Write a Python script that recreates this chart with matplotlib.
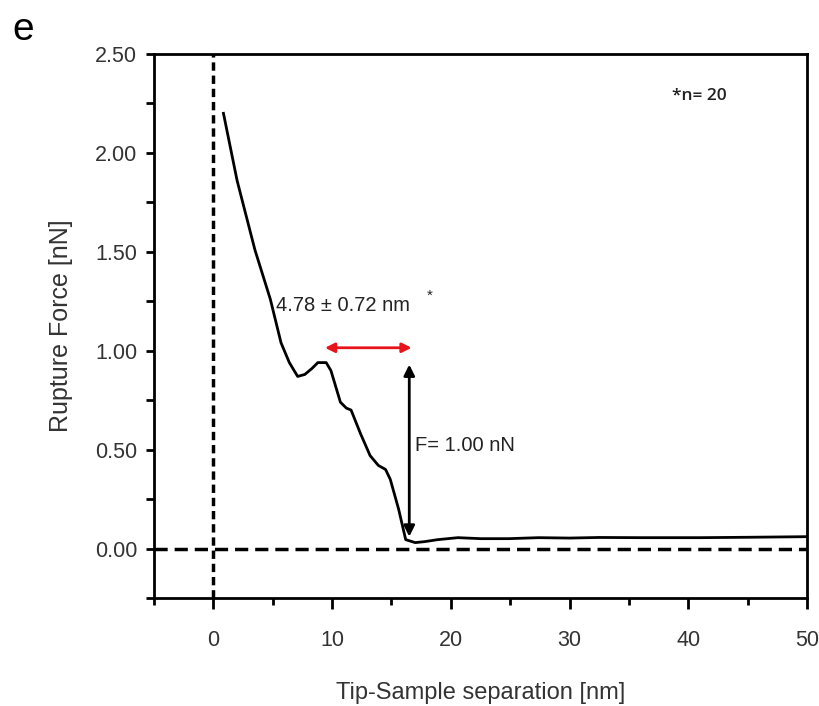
import matplotlib
matplotlib.use("Agg")
import matplotlib.pyplot as plt
from matplotlib.ticker import MultipleLocator

# force-separation curve
sep_nm = [0.85, 2.0, 3.5, 4.8, 5.7, 6.4, 7.1, 7.7, 8.3, 8.8, 9.5, 9.9, 10.3, 10.7,
          11.2, 11.6, 12.4, 13.2, 13.9, 14.5, 14.9, 15.6, 16.2, 17.0, 17.8,
          18.9, 20.6, 22.5, 24.9, 27.4, 30.0, 32.5, 36.0, 41.0, 45.0, 50.0]
force_nN = [2.20, 1.86, 1.51, 1.26, 1.04, 0.94, 0.87, 0.88, 0.91, 0.94, 0.94, 0.90,
            0.82, 0.74, 0.71, 0.70, 0.58, 0.47, 0.42, 0.40, 0.35, 0.20, 0.045, 0.03,
            0.035, 0.045, 0.055, 0.05, 0.05, 0.055, 0.053, 0.056, 0.055, 0.055,
            0.057, 0.06]

span_x = [9.4, 16.7]      # red double arrow
span_y = 1.015
force_x = 16.5            # black double arrow
force_y = [0.06, 0.93]

plt.rcParams["font.family"] = ["Liberation Sans", "DejaVu Sans"]

fig = plt.figure(figsize=(8.19, 7.06), dpi=100)
ax = fig.add_axes([154 / 819, 1 - 598 / 706, (807 - 154) / 819, (598 - 54) / 706])

ax.axhline(0, color="black", lw=2.5, ls=(0, (3.8, 2.0)), zorder=1)
ax.axvline(0, color="black", lw=2.5, ls=(0, (2.4, 1.4)), zorder=1)
ax.plot(sep_nm, force_nN, color="black", lw=2, zorder=3)

ax.annotate("", xy=(span_x[0], span_y), xytext=(span_x[1], span_y),
            arrowprops=dict(arrowstyle="<|-|>", color="#e8141c", lw=2,
                            mutation_scale=14, shrinkA=0, shrinkB=0))
ax.annotate("", xy=(force_x, force_y[0]), xytext=(force_x, force_y[1]),
            arrowprops=dict(arrowstyle="<|-|>", color="black", lw=2,
                            mutation_scale=16, shrinkA=0, shrinkB=0))

ax.text(5.3, 1.23, "4.78 \u00b1 0.72 nm", fontsize=14.5, color="#222222",
        va="center", ha="left")
ax.text(18.0, 1.28, "*", fontsize=11, color="#222222", va="center")
ax.text(17.0, 0.52, "F= 1.00 nN", fontsize=14.5, color="#222222",
        va="center", ha="left")
ax.text(38.6, 2.29, "*n= 20", fontsize=12.5, color="#222222", va="center",
        family=["Open Sans", "DejaVu Sans"], weight="semibold")

ax.set_xlim(-5, 50)
ax.set_ylim(-0.25, 2.5)
ax.xaxis.set_major_locator(MultipleLocator(10))
ax.xaxis.set_minor_locator(MultipleLocator(5))
ax.yaxis.set_major_locator(MultipleLocator(0.5))
ax.yaxis.set_minor_locator(MultipleLocator(0.25))
ax.yaxis.set_major_formatter(lambda v, p: f"{v:.2f}")
ax.set_xticks([0, 10, 20, 30, 40, 50])

for s in ax.spines.values():
    s.set_linewidth(2)
ax.tick_params(which="both", direction="out", width=2, colors="black",
               labelcolor="#333333")
ax.tick_params(axis="x", which="major", length=8, pad=15, labelsize=15.5)
ax.tick_params(axis="x", which="minor", length=5)
ax.tick_params(axis="y", which="both", length=6, pad=6, labelsize=15.5)

ax.set_xlabel("Tip-Sample separation [nm]", fontsize=17, color="#333333",
              labelpad=22)
ax.set_ylabel("Rupture Force [nN]", fontsize=18, color="#333333", labelpad=16)

fig.text(12 / 819, 1 - 40 / 706, "e", fontsize=28, color="black")

fig.savefig("out.png", dpi=100)
